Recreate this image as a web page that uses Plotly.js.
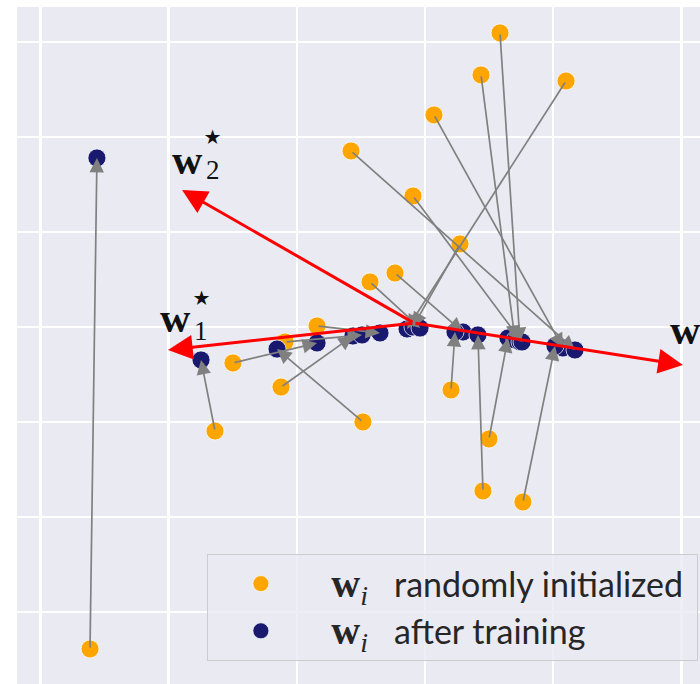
<!DOCTYPE html>
<html><head><meta charset="utf-8">
<script src="https://cdn.plot.ly/plotly-3.0.1.min.js"></script>
<style>html,body{margin:0;padding:0;background:#fff}</style>
</head><body><div id="chart" style="width:700px;height:684px"></div>
<script>
// randomly initialized weights (orange)
const initX = [-2.613, -1.638, -0.484, -1.498, -1.123, -1.092, -0.842, 1.100, 0.273, -0.429,
               -0.234, 0.203, 0.452, 0.499, 0.437, 0.585, -0.094, 0.070, 0.764, -0.577];
const initY = [-3.389, -1.095, -1.000, -0.379, -0.632, -0.158, 0.011, 2.589, 0.874, 0.474,
               0.568, -0.663, -1.726, -1.179, 2.653, 3.095, 1.379, 2.232, -1.842, 1.853];
// weights after training (navy), same order
const trainedX = [-2.559, -1.747, -1.154, -0.842, -0.562, -0.491, -0.351, -0.140, -0.094, -0.039,
                  0.296, 0.234, 0.413, 0.647, 0.702, 0.741, 0.757, 1.076, 1.014, 1.170];
const trainedY = [1.779, -0.347, -0.232, -0.168, -0.095, -0.084, -0.063, -0.021, 0.000, -0.011,
                  -0.053, -0.053, -0.084, -0.116, -0.137, -0.158, -0.158, -0.221, -0.200, -0.242];
// target directions (red)
const originXY = [-0.086, 0.042];
const targetX = [-2.005, -1.895, 2.012];
const targetY = [-0.242, 1.442, -0.400];
const legendNames = ['randomly initialized', 'after training'];

const W = '<span style="font-family:\'Liberation Serif\';font-size:40px"><b>w</b><sub><i>i</i></sub></span>';
const NB = '\u00A0';

const traces = [
  {x: initX, y: initY, mode: 'markers', type: 'scatter',
   name: NB + NB + W + NB + NB + NB + legendNames[0] + NB,
   legendgroup: 'a', cliponaxis: false,
   marker: {color: '#FFA500', size: 18, line: {color: 'rgba(255,255,255,0.7)', width: 1}}},
  {x: trainedX, y: trainedY, mode: 'markers', type: 'scatter',
   name: NB + NB + W + NB + NB + NB + legendNames[1],
   legendgroup: 'b',
   marker: {color: '#191970', size: 18, line: {color: 'rgba(255,255,255,0.7)', width: 1}}}
];

const annotations = [];
for (let i = 0; i < initX.length; i++) {
  annotations.push({x: trainedX[i], y: trainedY[i], ax: initX[i], ay: initY[i],
    xref: 'x', yref: 'y', axref: 'x', ayref: 'y', text: '', showarrow: true,
    arrowhead: 2, arrowsize: 1.7, arrowwidth: 1.7, arrowcolor: '#808080', standoff: 0});
}
for (let k = 0; k < targetX.length; k++) {
  annotations.push({x: targetX[k], y: targetY[k], ax: originXY[0], ay: originXY[1],
    xref: 'x', yref: 'y', axref: 'x', ayref: 'y', text: '', showarrow: true,
    arrowhead: 2, arrowsize: 1.65, arrowwidth: 3, arrowcolor: '#FF0000', standoff: 0});
}
const lab = (x, y, t, size, bold) => ({x: x, y: y, xref: 'x', yref: 'y', showarrow: false,
  text: bold ? '<b>' + t + '</b>' : t, font: {family: 'Liberation Serif', size: size, color: '#111'}});
const star = (x, y) => ({x: x, y: y, xref: 'x', yref: 'y', showarrow: false, text: '⋆',
  font: {family: 'DejaVu Sans', size: 40, color: '#111'}});
annotations.push(lab(-1.950, 0.095, 'w', 42, true));
annotations.push(lab(-1.745, -0.040, '1', 27, false));
annotations.push(star(-1.740, 0.320));
annotations.push(lab(-1.849, 1.758, 'w', 42, true));
annotations.push(lab(-1.652, 1.655, '2', 27, false));
annotations.push(star(-1.655, 2.010));
annotations.push(lab(2.030, -0.032, 'w', 42, true));

const axisCommon = {showgrid: true, gridcolor: '#FFFFFF', gridwidth: 2.5, zeroline: false,
  showticklabels: false, ticks: '', dtick: 1, tick0: 0, showline: false, fixedrange: true};

const layout = {
  width: 700, height: 684,
  margin: {l: 17, r: 0, t: 7, b: 0, pad: 0},
  paper_bgcolor: '#FFFFFF', plot_bgcolor: '#EAEAF2',
  xaxis: Object.assign({range: [-3.1825, 2.1451]}, axisCommon),
  yaxis: Object.assign({range: [-3.758, 3.368]}, axisCommon),
  showlegend: true,
  legend: {x: 0.278, y: 0.192, xanchor: 'left', yanchor: 'top',
    bgcolor: 'rgba(234,234,242,0.8)', bordercolor: '#CCCCCC', borderwidth: 1,
    font: {family: 'Lato', size: 34, color: '#262626'}, tracegroupgap: 0,
    itemsizing: 'trace', itemwidth: 96},
  annotations: annotations
};
Plotly.newPlot('chart', traces, layout, {displayModeBar: false, staticPlot: true});
</script></body></html>
